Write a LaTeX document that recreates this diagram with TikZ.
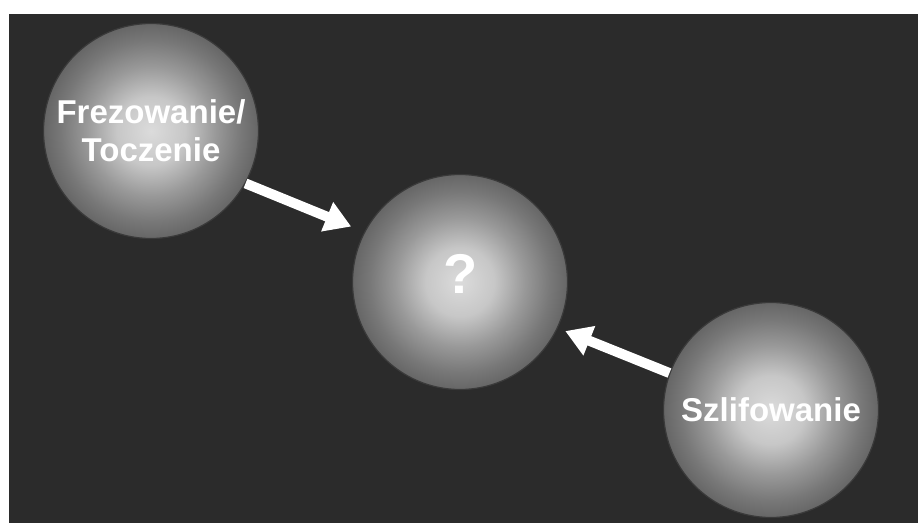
\documentclass[tikz,border=0pt]{standalone}
\usepackage{fontspec}
\setmainfont{Liberation Sans}
\usetikzlibrary{arrows.meta}
\definecolor{bgdark}{HTML}{2B2B2B}
\definecolor{rimgray}{HTML}{3A3A3A}
\pgfdeclareradialshading{ballshade}{\pgfpoint{0bp}{0bp}}{%
  color(0bp)=(white!86!black);
  color(8bp)=(white!78!black);
  color(15bp)=(white!60!black);
  color(21bp)=(white!47!black);
  color(25bp)=(white!40!black);
  color(50bp)=(white!40!black)}
\begin{document}
\begin{tikzpicture}[x=1pt,y=1pt,
  ball/.style={circle, minimum size=215pt, inner sep=0pt, draw=rimgray, line width=1.2pt,
    shading=ballshade, text=white, font=\bfseries\fontsize{33}{38}\selectfont, align=center},
  whitearrow/.style={draw=white, line width=10pt,
    -{Triangle[width=30pt,length=26pt]}, fill=white}
]
\useasboundingbox (0,0) rectangle (918,523);
\fill[white] (0,0) rectangle (918,523);
\fill[bgdark] (9,0) rectangle (918,509);
\node[ball] (c1) at (151,392) {Frezowanie/\\Toczenie};
\node[ball] (c2) at (460,241) {};
\node[ball] (c3) at (771,113) {Szlifowanie};
\node[text=white, font=\bfseries\fontsize{56}{60}\selectfont] (q) at (461,249) {?};
\draw[whitearrow] (c1.-29) -- ([shift={(153:14pt)}]c2.153);
\draw[whitearrow] (c3.160) -- ([shift={(-25:8pt)}]c2.-25);
\end{tikzpicture}
\end{document}
